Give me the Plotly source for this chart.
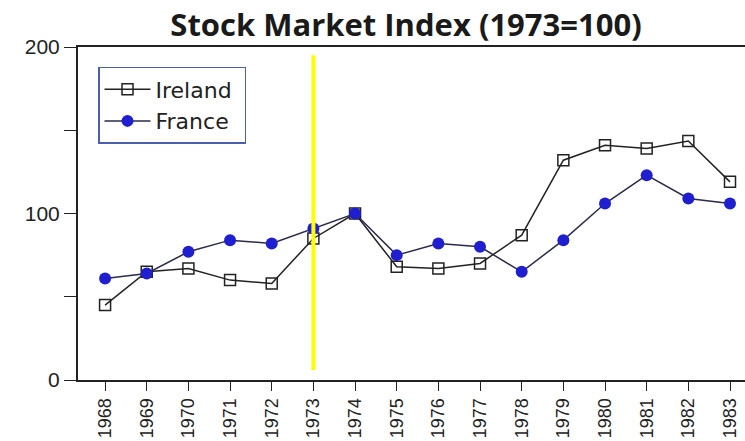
import plotly.graph_objects as go

years = list(range(1968, 1984))
ireland = [45, 65, 67, 60, 58, 85, 100, 68, 67, 70, 87, 132, 141, 139, 143.5, 119]
france = [61, 64, 77, 84, 82, 91, 100, 75, 82, 80, 65, 84, 106, 123, 109, 106]
year_labels = [str(y) for y in years]
y_tickvals = [0, 50, 100, 150, 200]
y_ticktext = ["0", "", "100", "", "200"]
marker_year = 1973

fig = go.Figure()
fig.add_trace(go.Scatter(
    x=years, y=ireland, name="Ireland\u00a0", mode="lines+markers",
    line=dict(color="#222222", width=1.5),
    marker=dict(symbol="square-open", size=11, color="#222222", line=dict(width=1.5)),
))
fig.add_trace(go.Scatter(
    x=years, y=france, name="France\u00a0", mode="lines+markers",
    line=dict(color="#2a2a4a", width=1.5),
    marker=dict(symbol="circle", size=12, color="#1f1fd0"),
))

fig.add_shape(type="line", xref="x", yref="y", x0=marker_year, x1=marker_year,
              y0=6, y1=195, line=dict(color="#ffff00", width=4))

fig.update_layout(
    width=745, height=441,
    margin=dict(l=78, r=0, t=47, b=61),
    paper_bgcolor="white", plot_bgcolor="white",
    title=dict(text="<b>Stock Market Index (1973=100)</b>", x=0.545, xanchor="center",
               y=0.943, yanchor="middle", yref="container",
               font=dict(family="Open Sans", size=31, color="#1a1a1a")),
    showlegend=True,
    legend=dict(x=0.03, y=0.94, xanchor="left", yanchor="top",
                bordercolor="#4a5fb0", borderwidth=1.5, bgcolor="white",
                font=dict(family="DejaVu Sans", size=22, color="#222222"),
                tracegroupgap=0, itemwidth=46),
    xaxis=dict(range=[1967.35, 1983.36], tickvals=years, ticktext=year_labels,
               tickangle=-90, ticks="outside", ticklen=9, tickcolor="#222",
               showline=True, linecolor="#222", linewidth=2, mirror=True,
               showgrid=False, zeroline=False,
               tickfont=dict(family="Liberation Sans", size=18, color="#222")),
    yaxis=dict(range=[0, 200], tickvals=y_tickvals, ticktext=y_ticktext,
               ticks="outside", ticklen=12, tickcolor="#222",
               showline=True, linecolor="#222", linewidth=2,
               showgrid=False, zeroline=False,
               tickfont=dict(family="Liberation Sans", size=21, color="#222")),
)

fig.write_html("out.html", config={"displayModeBar": False},
               post_script="document.body.style.margin='0';document.body.style.overflow='hidden';")
